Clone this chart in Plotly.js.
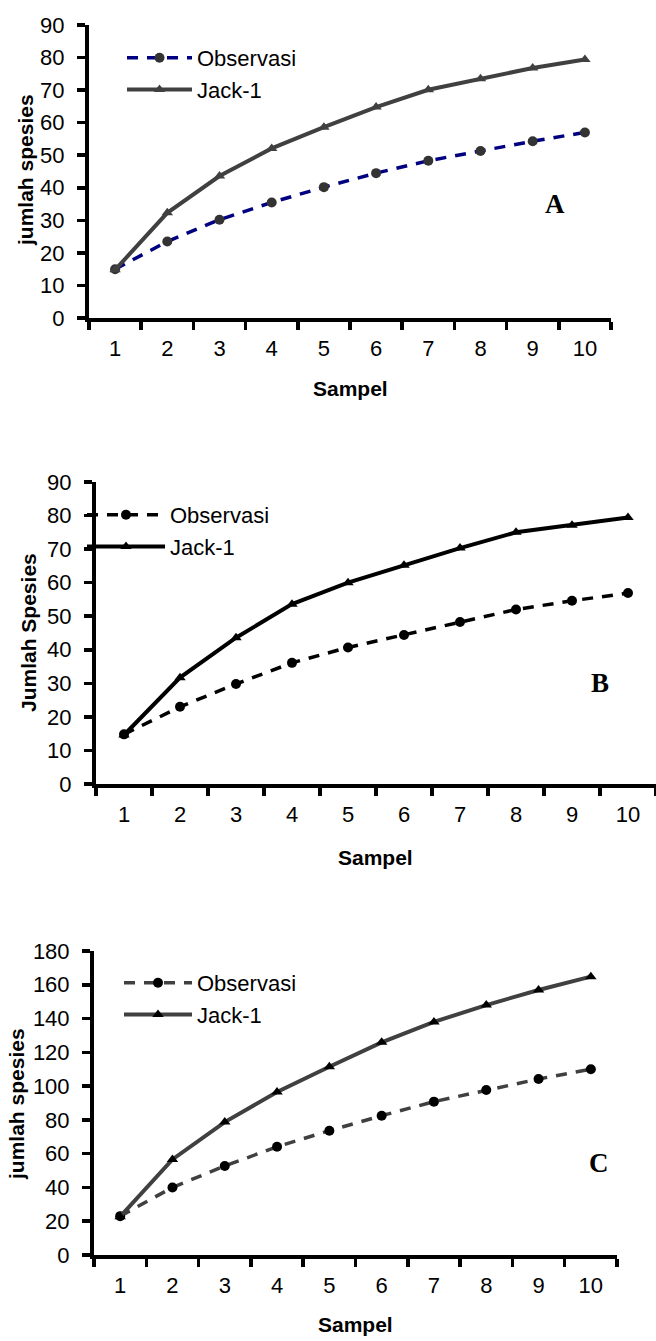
<!DOCTYPE html>
<html>
<head>
<meta charset="utf-8">
<script src="https://cdn.plot.ly/plotly-3.0.1.min.js"></script>
<style>html,body{margin:0;padding:0;background:#fff;}#chart{width:656px;height:1341px;}</style>
</head>
<body>
<div id="chart"></div>
<script>
// ---- data ----
const samples = ['1','2','3','4','5','6','7','8','9','10'];
const obsA  = [15, 23.5, 30.2, 35.5, 40.2, 44.5, 48.3, 51.3, 54.3, 57];
const jackA = [14.8, 32.3, 43.6, 52.1, 58.6, 64.8, 70.1, 73.5, 76.8, 79.4];
const obsB  = [14.8, 23, 29.8, 36.1, 40.7, 44.4, 48.3, 52, 54.6, 56.9];
const jackB = [14.6, 31.7, 43.6, 53.6, 60, 65.2, 70.3, 75, 77.1, 79.4];
const obsC  = [23, 40, 52.7, 64.1, 73.6, 82.5, 90.8, 97.7, 104.2, 110];
const jackC = [22.7, 56.6, 78.7, 96.5, 111.5, 125.9, 138, 148, 156.9, 164.8];
const seriesNames = ['Observasi', 'Jack-1'];
const panelLetters = ['A', 'B', 'C'];
const yTitles = ['jumlah spesies', 'Jumlah Spesies', 'jumlah spesies'];
const xTitle = 'Sampel';

const FONT = 'Liberation Sans, Arial, sans-serif';
const W = 656, H = 1341;
const px = v => v / W;
const py = v => 1 - v / H;

function tr(y, ax, name, lineColor, dash, markerColor, symbol, leg) {
  return {
    x: samples, y: y, xaxis: 'x' + ax, yaxis: 'y' + ax, name: name,
    mode: 'lines+markers', legend: leg, legendgroup: leg + name,
    line: {color: lineColor, width: dash === 'solid' ? 4 : 3.5, dash: dash},
    marker: {symbol: symbol, size: 10, color: markerColor},
    hoverinfo: 'x+y'
  };
}
const DASH = '11px,9px';
const data = [
  tr(obsA, '', seriesNames[0], '#000080', DASH, '#333333', 'circle', 'legend'),
  tr(jackA, '', seriesNames[1], '#404040', 'solid', '#404040', 'triangle-up', 'legend'),
  tr(obsB, '2', seriesNames[0], '#000000', DASH, '#000000', 'circle', 'legend2'),
  tr(jackB, '2', seriesNames[1], '#000000', 'solid', '#000000', 'triangle-up', 'legend2'),
  tr(obsC, '3', seriesNames[0], '#404040', DASH, '#000000', 'circle', 'legend3'),
  tr(jackC, '3', seriesNames[1], '#404040', 'solid', '#000000', 'triangle-up', 'legend3')
];

function xa(l, r, anchor) {
  return {
    domain: [px(l), px(r)], anchor: anchor, type: 'category', tickson: 'boundaries',
    range: [-0.5, 9.5], ticks: 'outside', ticklen: 8, tickwidth: 3.5, tickcolor: '#000',
    showline: true, linewidth: 4, linecolor: '#000', showgrid: false, zeroline: false,
    tickfont: {family: FONT, size: 22, color: '#000'}, ticklabelstandoff: 8, fixedrange: true
  };
}
function ya(top, bottom, max, dt, anchor) {
  return {
    domain: [py(bottom), py(top)], anchor: anchor, range: [0, max], dtick: dt,
    ticks: 'outside', ticklen: 8, tickwidth: 3.5, tickcolor: '#000',
    showline: true, linewidth: 4, linecolor: '#000', showgrid: false, zeroline: false,
    tickfont: {family: FONT, size: 22, color: '#000'}, ticklabelstandoff: 8, fixedrange: true
  };
}
function leg(x, y, w, gap) {
  return {x: px(x), y: py(y), xanchor: 'left', yanchor: 'top', bgcolor: 'rgba(0,0,0,0)',
    borderwidth: 0, font: {family: FONT, size: 22, color: '#000'}, itemwidth: w,
    tracegroupgap: gap, traceorder: 'normal'};
}

const annotations = [];
const titlePos = [[25, 170, 350, 388], [28, 633, 376, 857], [16, 1104, 355, 1324]];
titlePos.forEach((p, i) => {
  annotations.push({xref: 'paper', yref: 'paper', x: px(p[0]), y: py(p[1]), text: yTitles[i],
    textangle: -90, showarrow: false, xanchor: 'center', yanchor: 'middle',
    font: {family: FONT, size: 21, color: '#000', weight: 'bold'}});
  annotations.push({xref: 'paper', yref: 'paper', x: px(p[2]), y: py(p[3]), text: xTitle,
    showarrow: false, xanchor: 'center', yanchor: 'middle',
    font: {family: FONT, size: 21, color: '#000', weight: 'bold'}});
});
const letterPos = [['x', 'y', 8.42, 35], ['x2', 'y2', 8.5, 30], ['x3', 'y3', 9.15, 54.5]];
letterPos.forEach((p, i) => {
  annotations.push({xref: p[0], yref: p[1], x: p[2], y: p[3], text: '<b>' + panelLetters[i] + '</b>',
    showarrow: false, xanchor: 'center', yanchor: 'middle',
    font: {family: 'Liberation Serif, Times New Roman, serif', size: 27, color: '#000'}});
});

const layout = {
  width: W, height: H, margin: {l: 0, r: 0, t: 0, b: 0}, autosize: false,
  paper_bgcolor: '#fff', plot_bgcolor: '#fff', showlegend: true,
  font: {family: FONT, color: '#000'},
  xaxis: xa(89, 611, 'y'), yaxis: ya(25, 318, 90, 10, 'x'),
  xaxis2: xa(96, 656, 'y2'), yaxis2: ya(482, 784, 90, 10, 'x2'),
  xaxis3: xa(94, 617, 'y3'), yaxis3: ya(951, 1255, 180, 20, 'x3'),
  legend: leg(122, 37, 65, 5), legend2: leg(82, 494, 78, 7), legend3: leg(119, 962, 68, 8),
  annotations: annotations
};
Plotly.newPlot('chart', data, layout, {displayModeBar: false, staticPlot: true});
</script>
</body>
</html>
